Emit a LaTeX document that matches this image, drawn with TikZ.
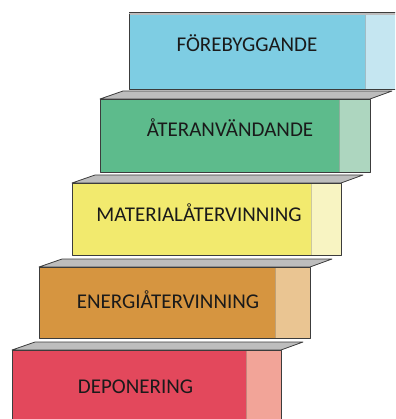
\documentclass[tikz,border=0pt]{standalone}
\usepackage{fontspec}
\setmainfont{Carlito}
\definecolor{edgegray}{HTML}{3C3C3C}
\definecolor{slabgray}{HTML}{BDBDBD}
\definecolor{textdark}{HTML}{1A1A1A}
\definecolor{blueD}{HTML}{7ECDE3}
\definecolor{blueL}{HTML}{C5E6F1}
\definecolor{greenD}{HTML}{5DBB8C}
\definecolor{greenL}{HTML}{ADD6BF}
\definecolor{yellowD}{HTML}{F2EA6E}
\definecolor{yellowL}{HTML}{F8F4C2}
\definecolor{orangeD}{HTML}{D69540}
\definecolor{orangeL}{HTML}{EAC592}
\definecolor{redD}{HTML}{E3485C}
\definecolor{redL}{HTML}{F2A498}

% one stair step: front face (dark part + light end), grey top slab, outline
% #1 left, #2 split, #3 right, #4 top, #5 bottom, #6 dark colour, #7 light colour
\newcommand\stairstep[7]{%
  \fill[#6] (#1,#4) rectangle (#2,#5);
  \fill[#7] (#2,#4) rectangle (#3,#5);
  \draw[sepline] (#2,#4) -- (#2,#5);
  \filldraw[slab] (#1,#4) -- (#1+23,#4-8) -- (#3+22,#4-8) -- (#3,#4) -- cycle;
  \draw[edge] (#1,#5) -- (#1,#4) -- (#3,#4) -- (#3,#5) -- cycle;
}

\begin{document}
\begin{tikzpicture}[x=1pt,y=-1pt,
  edge/.style={draw=edgegray, line width=0.9pt, line join=round},
  slab/.style={fill=slabgray, draw=edgegray, line width=0.8pt, line join=round},
  sepline/.style={draw=black, draw opacity=0.18, line width=0.8pt},
  steplabel/.style={font=\fontsize{21}{21}\selectfont, text=textdark, anchor=base, inner sep=0pt}]
\useasboundingbox (0,0) rectangle (395,419);
\clip (0,0) rectangle (395,419);

% bottom step first, so each higher step is drawn over the slab below it
\stairstep{12}{246}{281}{350}{430}{redD}{redL}
\stairstep{39}{275}{310}{267}{338}{orangeD}{orangeL}
\stairstep{72}{311}{341}{183}{255}{yellowD}{yellowL}
\stairstep{100}{339}{370}{99}{172}{greenD}{greenL}

% top step, running past the right border
\fill[blueD] (129,14) rectangle (365,89);
\fill[blueL] (365,14) rectangle (400,89);
\draw[sepline] (365,14) -- (365,89);
\fill[slabgray] (129,12.5) rectangle (400,15.5);
\draw[edgegray, line width=0.6pt] (129,12.5) -- (400,12.5);
\draw[edge] (400,89) -- (129,89) -- (129,14);

\node[steplabel] (t1) at (247,52) {FÖREBYGGANDE};
\node[steplabel] (t2) at (230,137) {ÅTERANVÄNDANDE};
\node[steplabel] (t3) at (199,222) {MATERIALÅTERVINNING};
\node[steplabel] (t4) at (168,308) {ENERGIÅTERVINNING};
\node[steplabel] (t5) at (135.5,393) {DEPONERING};
\end{tikzpicture}
\end{document}
